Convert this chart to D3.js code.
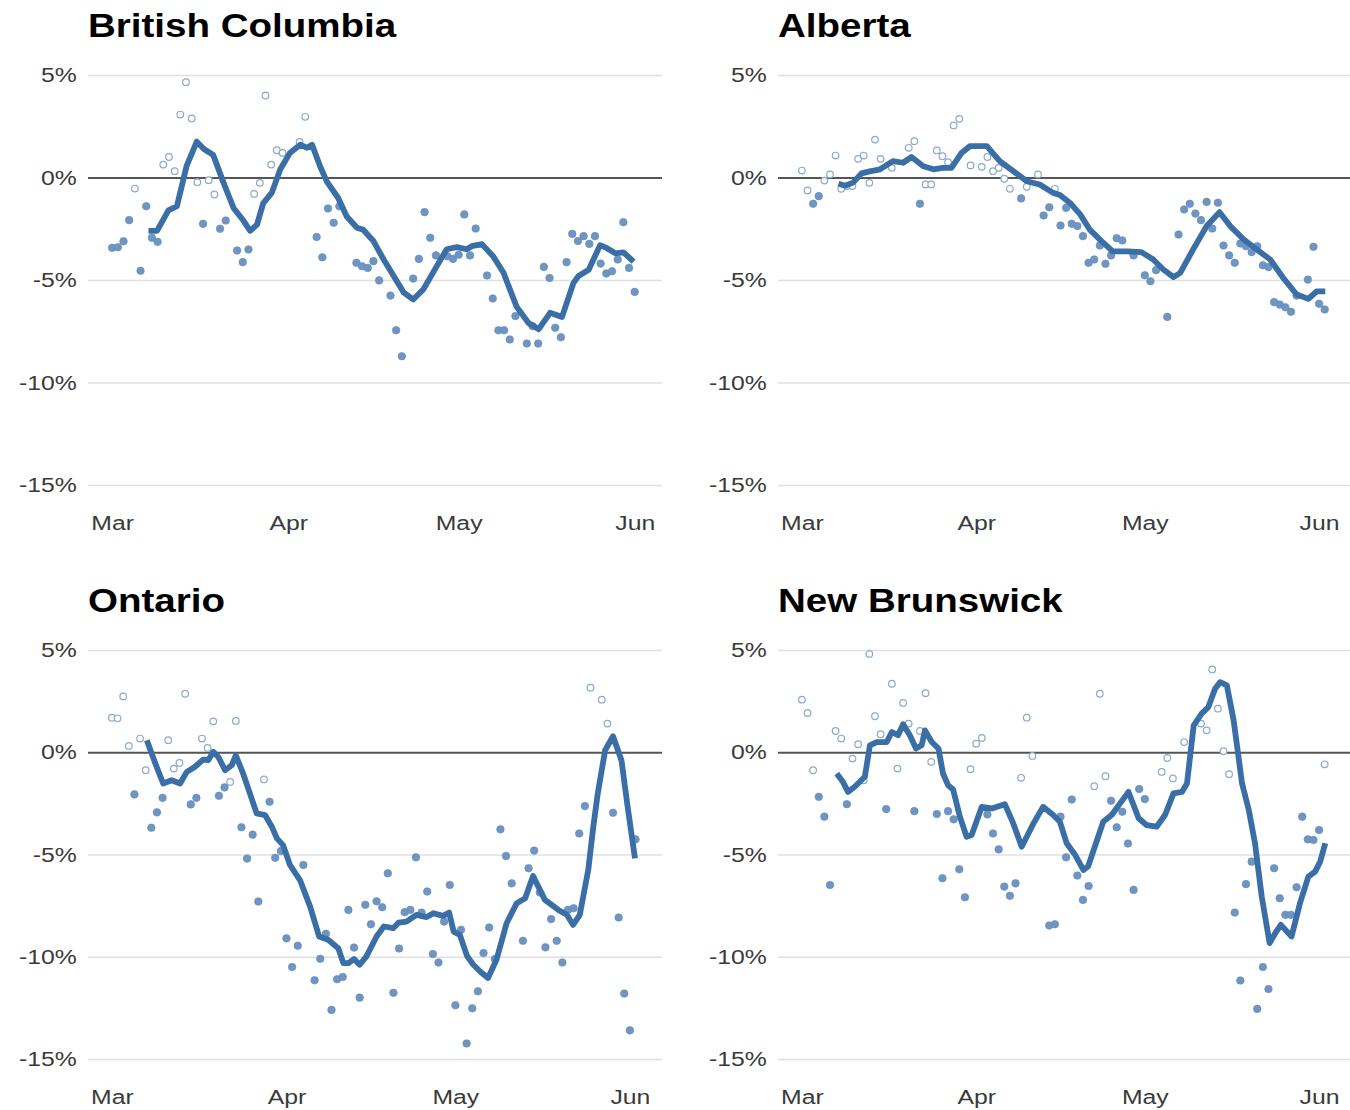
<!DOCTYPE html>
<html>
<head>
<meta charset="utf-8">
<script src="https://cdn.jsdelivr.net/npm/d3@7"></script>
<style>
  body { margin: 0; background: #fff; }
  text { font-family: "Liberation Sans", Arial, sans-serif; }
</style>
</head>
<body>
<div id="chart"></div>
<script>
// province names, in panel order
var provinces = ["British Columbia", "Alberta", "Ontario", "New Brunswick"];

// daily dots, index 0 = 1 March 2020 (null = hidden under the line)
var bcPoints = [-3.43,-3.40,-3.11,-2.08,-0.54,-4.55,-1.40,-2.94,-3.14,0.63,
  1.0,0.31,3.07,4.65,2.88,-0.23,-2.26,-0.13,-0.83,-2.5,
  -2.1,null,-3.56,-4.13,-3.51,-0.8,-0.26,4.0,0.63,1.33,
  1.2,null,null,1.74,2.96,null,-2.9,-3.89,-1.51,-2.21,
  -1.4,null,null,-4.16,-4.33,-4.41,-4.08,-5.02,null,-5.76,
  -7.45,-8.72,null,-4.93,-3.97,-1.69,-2.94,-3.8,null,-3.84,
  -3.97,-3.77,-1.8,-3.8,-2.49,null,-4.78,-5.9,-7.45,-7.45,
  -7.9,-6.76,null,-8.1,-7.25,-8.1,-4.36,-4.9,-7.33,-7.79,
  -4.13,-2.75,-3.1,-2.86,-3.24,-2.86,-4.2,-4.68,-4.57,-4.0,
  -2.18,-4.41,-5.58];
var abPoints = [0.34,-0.63,-1.28,-0.91,-0.15,0.15,1.07,-0.55,-0.42,-0.42,
  0.91,1.07,-0.26,1.85,0.91,null,0.47,null,null,1.45,
  1.77,-1.28,-0.34,-0.34,1.32,1.04,0.75,2.54,2.86,null,
  0.59,null,0.52,1.0,0.31,0.47,-0.06,-0.55,null,-1.02,
  -0.45,null,0.15,-1.85,-1.45,-0.55,-2.34,-1.48,-2.26,-2.37,
  -2.86,-4.16,-4.0,-3.32,-4.21,-3.8,-2.96,-3.07,null,-3.8,
  null,-4.77,-5.06,-4.52,null,-6.8,null,-2.78,-1.56,-1.28,
  -1.76,-2.08,-1.19,-2.49,-1.23,-3.32,-3.8,-4.16,-3.22,-3.35,
  -3.64,-3.35,-4.28,-4.37,-6.08,-6.2,-6.33,-6.55,-5.76,null,
  -4.98,-3.38,-6.16,-6.44];
var onPoints = [1.69,1.66,2.73,0.31,-2.06,0.67,-0.88,-3.69,-2.94,-2.23,
  0.59,-0.8,-0.52,2.86,-2.55,-2.23,0.67,0.21,1.51,-2.13,
  -1.72,-1.45,1.53,-3.67,-5.2,-4.03,-7.3,-1.33,-2.42,-5.16,
  -4.83,-9.1,-10.5,-9.46,-5.51,null,-11.15,-10.1,-8.88,-12.6,
  -11.1,-10.99,-7.71,-9.55,-12.0,-7.46,-8.41,-7.29,-7.58,-5.92,
  -11.76,-9.6,-7.82,-7.71,-5.14,-7.84,-6.81,-9.87,-10.28,-8.28,
  -6.49,-12.37,-8.68,-14.24,-12.52,-11.69,-9.82,-8.57,-10.11,-3.77,
  -5.07,-6.41,null,-9.22,-5.67,-4.81,-6.86,-9.54,-8.16,-9.22,
  -10.28,-7.71,-7.63,-3.97,-2.63,3.16,null,2.57,1.4,-2.96,
  -8.08,-11.8,-13.6,-4.26];
var nbPoints = [2.57,1.92,-0.88,-2.18,-3.15,-6.49,1.04,0.67,-2.54,-0.31,
  0.39,-1.37,4.81,1.76,0.88,-2.78,3.35,-0.8,2.41,1.4,
  -2.88,1.04,2.89,-0.47,-3.02,-6.16,-2.88,-3.28,-5.72,-7.09,
  -0.83,0.42,0.7,-3.04,-3.97,-4.75,-6.57,-7.02,-6.41,-1.25,
  1.69,-0.18,null,null,-8.47,-8.41,-3.15,-5.14,-2.31,-6.03,
  -7.22,-6.54,-1.66,2.86,-1.17,-2.37,-3.67,-2.91,-4.46,-6.73,
  -1.8,-2.29,null,null,-0.96,-0.28,-1.28,null,0.5,null,
  null,1.4,1.07,4.05,2.13,0.05,-1.07,-7.84,-11.16,-6.45,
  -5.35,-12.55,-10.5,-11.58,-5.67,-7.14,-7.95,-7.95,-6.6,-3.15,
  -4.26,-4.29,-3.8,-0.59];

// 7-day average line, [days since 1 March, value]
var bcLine = [[6.4,-2.6],[7.9,-2.6],[9.9,-1.6],[11.4,-1.4],[13.1,0.55],[14.9,1.75],[16.1,1.4],[17.8,1.1],
  [19.6,-0.25],[21.4,-1.5],[23.1,-2.1],[24.3,-2.6],[25.5,-2.3],[26.6,-1.25],[28.1,-0.75],[29.6,0.4],
  [31.3,1.2],[33.1,1.6],[34.3,1.45],[35.2,1.6],[36.6,0.55],[37.8,-0.2],[39.8,-1.0],[41.3,-1.9],
  [43.1,-2.45],[44.2,-2.55],[46,-3.1],[47.8,-4.0],[51.3,-5.6],[53,-5.95],[54.8,-5.45],[57.2,-4.3],
  [58.9,-3.5],[60.7,-3.4],[62.4,-3.5],[63.3,-3.35],[65.1,-3.25],[67.1,-3.85],[68.9,-4.65],[71.2,-6.3],
  [73.3,-7.1],[75.1,-7.4],[77.1,-6.6],[79.2,-6.8],[81.2,-5.15],[82.1,-4.8],[83.9,-4.5],[85.9,-3.3],
  [87.1,-3.45],[88.6,-3.7],[90,-3.65],[91.8,-4.1]];
var abLine = [[6.5,-0.3],[7.7,-0.4],[9.1,-0.25],[10.6,0.2],[12.1,0.3],[13.9,0.4],[16.2,0.8],[18,0.72],
  [19.5,1.0],[21.6,0.55],[23.4,0.4],[25.1,0.47],[26.6,0.47],[28.4,1.2],[29.9,1.53],[32.9,1.53],
  [35.2,0.8],[37.6,0.31],[40,-0.18],[42.3,-0.34],[44.7,-0.75],[45.9,-0.85],[47.7,-1.24],[49.5,-1.8],
  [51.2,-2.54],[53.3,-3.1],[55.3,-3.6],[57.8,-3.6],[60.4,-3.64],[62.5,-4.0],[64.3,-4.49],[66.1,-4.86],
  [67.3,-4.65],[69.6,-3.51],[72,-2.37],[74.3,-1.69],[76.2,-2.37],[78.5,-3.0],[80.9,-3.51],[83.3,-4.0],
  [85.6,-4.89],[88,-5.71],[90.1,-5.92],[91.6,-5.55],[93.1,-5.55]];
var onLine = [[6.2,0.59],[7.6,-0.47],[9.1,-1.53],[10.6,-1.37],[12.1,-1.53],[13.3,-0.96],[14.7,-0.72],
  [16.2,-0.36],[17.1,-0.39],[18,0.02],[18.9,-0.23],[20.1,-0.88],[21.3,-0.63],[22,-0.15],[23.3,-1.04],
  [24.5,-2.01],[25.7,-2.99],[27.2,-3.07],[28.4,-3.64],[29.3,-4.21],[30.4,-4.54],[31.6,-5.5],[33.4,-6.25],
  [35.2,-7.55],[36.8,-9.01],[38.4,-9.17],[40.2,-9.58],[41.1,-10.31],[42,-10.31],[43,-10.11],[44,-10.39],
  [45.2,-9.98],[47,-9.01],[48.3,-8.52],[50,-8.6],[50.9,-8.33],[52.3,-8.28],[54.1,-7.95],[55.9,-8.06],
  [57.1,-7.87],[58.8,-8.0],[59.9,-7.84],[60.7,-8.77],[61.8,-8.93],[63.1,-9.98],[64.2,-10.39],[65.4,-10.72],
  [66.8,-11.04],[68.3,-10.15],[70.1,-8.36],[71.9,-7.38],[73.4,-7.14],[74.8,-6.05],[76.9,-7.22],[79.3,-7.71],
  [80.8,-7.95],[81.9,-8.44],[83.1,-7.95],[84.6,-5.76],[85.5,-3.64],[86.3,-2.0],[87.6,0.1],[89,0.78],
  [90.5,-0.39],[91.6,-2.67],[92.9,-5.19]];
var nbLine = [[6.2,-1.04],[7.3,-1.45],[8.2,-1.94],[9.4,-1.69],[11.2,-1.2],[12.1,0.34],[13.3,0.5],[15.1,0.5],
  [16,0.99],[17.1,0.83],[18,1.37],[19.2,0.83],[20.3,0.18],[21.3,0.34],[21.9,1.07],[23.1,0.5],[24.3,0.18],
  [25.1,-1.04],[26,-1.61],[26.9,-1.82],[28.1,-3.15],[29.3,-4.13],[30.2,-4.05],[32,-2.67],[33.8,-2.75],
  [36.1,-2.54],[37.6,-3.48],[39.1,-4.62],[40,-4.13],[41.2,-3.48],[42.9,-2.67],[44.7,-3.07],[45.9,-3.4],
  [47.1,-4.45],[48.6,-5.02],[50.1,-5.76],[50.9,-5.59],[52.1,-4.62],[53.6,-3.4],[55.1,-3.07],[56.6,-2.5],
  [58.1,-1.94],[59.9,-3.23],[61.3,-3.56],[63.1,-3.64],[64.6,-3.07],[66.1,-2.01],[67.6,-1.94],[68.5,-1.53],
  [69.7,1.32],[71.1,1.89],[72.3,2.21],[73.5,3.11],[74.4,3.43],[75.6,3.27],[76.8,1.56],[78.3,-1.53],
  [79.5,-2.83],[80.6,-4.45],[81.8,-7.06],[83.2,-9.33],[84.2,-8.85],[85.2,-8.44],[87.1,-9.01],[88.6,-7.38],
  [90.1,-6.08],[91.3,-5.84],[92.2,-5.35],[93.1,-4.45]];

// dots above this value are drawn open
var openCut = [-1.1, -0.8, -1.6, -1.73];

// y axis ticks (percent)
var yTicks = [5, 0, -5, -10, -15];

var allPoints = [bcPoints, abPoints, onPoints, nbPoints];
var allLines = [bcLine, abLine, onLine, nbLine];

var start = Date.UTC(2020, 2, 1);
function toDate(d) { return new Date(start + d * 864e5); }

var svg = d3.select("#chart").append("svg")
  .attr("width", 1350)
  .attr("height", 1110);

// panel boxes
var lefts = [88, 778], tops = [75, 650], widths = [574, 572], heights = [410, 409];
var xEnds = [96.8, 97.5, 97.7, 97.5];

provinces.forEach(function(name, i) {
  var col = i % 2, row = Math.floor(i / 2);
  var width = widths[col], height = heights[row];

  var g = svg.append("g")
    .attr("transform", "translate(" + lefts[col] + "," + tops[row] + ")");

  var x = d3.scaleUtc().domain([toDate(-4.25), toDate(xEnds[i])]).range([0, width]);
  var y = d3.scaleLinear().domain([-15, 5]).range([height, 0]);

  // title
  svg.append("text")
    .attr("transform", "translate(" + lefts[col] + "," + (tops[row] - 38) + ") scale(1.15,1)")
    .style("font-size", "33.5px")
    .style("font-weight", "bold")
    .attr("fill", "#000")
    .text(name);

  // y axis with gridlines
  var yAxis = g.append("g")
    .call(d3.axisLeft(y).tickValues(yTicks).tickSize(-width).tickPadding(9.5)
      .tickFormat(function(d) { return d + "%"; }));
  yAxis.select(".domain").remove();
  yAxis.selectAll(".tick line")
    .attr("stroke", function(d) { return d === 0 ? "#555" : "#e0e0e0"; })
    .attr("stroke-width", function(d) { return d === 0 ? 1.8 : 1.5; });
  yAxis.selectAll(".tick text")
    .attr("transform", "scale(1.18,1)")
    .attr("fill", "#3a3a3a")
    .style("font-size", "21px");

  // x axis, month labels
  var xAxis = g.append("g")
    .attr("transform", "translate(0," + height + ")")
    .call(d3.axisBottom(x).ticks(d3.utcMonth.every(1)).tickSize(0).tickPadding(30)
      .tickFormat(d3.utcFormat("%b")));
  xAxis.select(".domain").remove();
  xAxis.selectAll(".tick text")
    .attr("transform", "scale(1.18,1)")
    .attr("fill", "#3a3a3a")
    .style("font-size", "21px");

  // daily dots
  var pts = allPoints[i].map(function(v, d) { return {day: d, value: v}; })
    .filter(function(p) { return p.value !== null; });
  var cut = openCut[i];
  g.selectAll("circle.dot")
    .data(pts)
    .join("circle")
      .attr("class", "dot")
      .attr("cx", function(p) { return x(toDate(p.day)); })
      .attr("cy", function(p) { return y(p.value); })
      .attr("r", function(p) { return p.value > cut ? 3.3 : 3.8; })
      .attr("fill", function(p) { return p.value > cut ? "#fff" : "#6f95c3"; })
      .attr("stroke", function(p) { return p.value > cut ? "#8ea9ca" : "#6389b8"; })
      .attr("stroke-width", function(p) { return p.value > cut ? 1.2 : 0.6; });

  // rolling average line
  var line = d3.line()
    .x(function(d) { return x(toDate(d[0])); })
    .y(function(d) { return y(d[1]); });
  g.append("path")
    .datum(allLines[i])
    .attr("fill", "none")
    .attr("stroke", "#3a6ea6")
    .attr("stroke-width", 5.8)
    .attr("stroke-linejoin", "round")
    .attr("d", line);
});
</script>
</body>
</html>
